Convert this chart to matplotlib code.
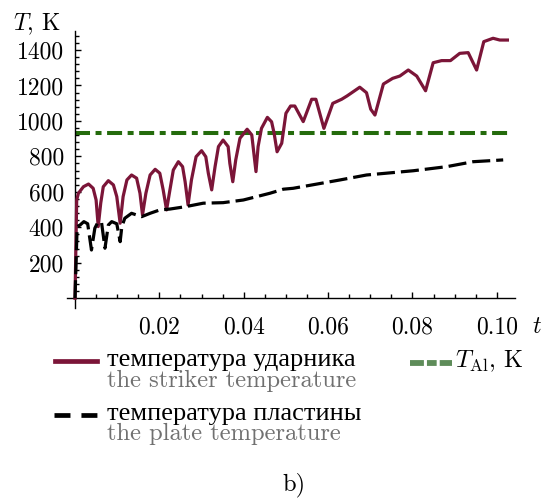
import matplotlib
matplotlib.use("Agg")
import matplotlib.pyplot as plt
from matplotlib.lines import Line2D
import numpy as np

# --- data ---
t_striker = [0.0, 0.0004, 0.0008, 0.0020, 0.0032, 0.0043, 0.0050, 0.0055, 0.0061,
             0.0067, 0.0079, 0.0091, 0.0099, 0.0107, 0.0114, 0.0123, 0.0134, 0.0146,
             0.0154, 0.0160, 0.0168, 0.0178, 0.0190, 0.0201, 0.0209, 0.0217, 0.0225,
             0.0233, 0.0245, 0.0255, 0.0261, 0.0268, 0.0276, 0.0287, 0.0300, 0.0310,
             0.0316, 0.0324, 0.0332, 0.0340, 0.0351, 0.0363, 0.0367, 0.0374, 0.0381,
             0.0391, 0.0408, 0.0419, 0.0424, 0.0429, 0.0434, 0.0442, 0.0456, 0.0466,
             0.0472, 0.0479, 0.0490, 0.0500, 0.0511, 0.0521, 0.0541, 0.0561, 0.0571,
             0.0590, 0.0611, 0.0632, 0.0645, 0.0675, 0.0691, 0.0701, 0.0711, 0.0731,
             0.0753, 0.0770, 0.0790, 0.0810, 0.0831, 0.0849, 0.0869, 0.0890, 0.0912,
             0.0932, 0.0952, 0.0969, 0.0991, 0.1007, 0.1025]
T_striker = [0, 554, 592, 629, 644, 620, 554, 404, 537,
             629, 663, 639, 573, 423, 573, 667, 695, 677,
             592, 470, 592, 695, 727, 705, 611, 498, 611,
             723, 770, 742, 657, 526, 667, 798, 832, 798,
             705, 611, 742, 855, 892, 855, 761, 657, 780,
             902, 953, 921, 817, 714, 855, 958, 1020, 995,
             930, 826, 874, 1043, 1084, 1084, 996, 1122, 1122,
             958, 1099, 1122, 1141, 1190, 1159, 1066, 1033, 1208,
             1240, 1253, 1287, 1253, 1170, 1328, 1340, 1340, 1381,
             1385, 1287, 1447, 1466, 1456, 1456]

t_plate = [0.0, 0.0005, 0.0012, 0.0021, 0.0030, 0.0039, 0.0047, 0.0055, 0.0063,
           0.0071, 0.0079, 0.0087, 0.0099, 0.0107, 0.0111, 0.0118, 0.0134, 0.0158,
           0.0178, 0.0201, 0.0225, 0.0261, 0.0304, 0.0351, 0.0399, 0.0462, 0.0494,
           0.0517, 0.0628, 0.0691, 0.0802, 0.0881, 0.0944, 0.1015]
T_plate = [0, 404, 413, 432, 420, 272, 395, 432, 425,
           282, 413, 432, 420, 319, 404, 451, 479, 460,
           479, 498, 503, 516, 536, 539, 554, 592, 615,
           620, 667, 695, 719, 742, 770, 780]

T_al = 933
t_al = [0.0, 0.1026]

x_major = [0.02, 0.04, 0.06, 0.08, 0.10]
x_labels = ["0.02", "0.04", "0.06", "0.08", "0.10"]
y_major = [200, 400, 600, 800, 1000, 1200, 1400]
y_labels = ["200", "400", "600", "800", "1000", "1200", "1400"]

c_striker = "#7b1538"
c_al = "#246b0c"
c_al_legend = "#5e8c59"
c_gray = "#707070"

plt.rcParams["mathtext.fontset"] = "cm"
plt.rcParams["axes.formatter.use_mathtext"] = True
plt.rcParams["lines.scale_dashes"] = False
plt.rcParams["font.family"] = ["cmr10", "DejaVu Serif"]

W, H = 551, 498
fig = plt.figure(figsize=(W / 100, H / 100), dpi=100)


def fx(px):
  return px / W


def fy(py):
  return 1 - py / H


ax = fig.add_axes([fx(67), fy(308), 448 / W, 277 / H])
ax.set_xlim(-0.0019, 0.1043)
ax.set_ylim(-55, 1507)

ax.plot(t_striker, T_striker, color=c_striker, lw=2.3, solid_joinstyle="round", zorder=3)
ax.plot(t_plate, T_plate, color="black", lw=2.3, linestyle=(0, (13, 4.3)), zorder=4)
ax.plot(t_al, [T_al, T_al], color=c_al, lw=2.9,
        linestyle=(0, (10.8, 4, 4.3, 4)), zorder=2)

for side in ("top", "right"):
  ax.spines[side].set_visible(False)
ax.spines["left"].set_position(("data", 0))
ax.spines["bottom"].set_position(("data", 0))
for side in ("left", "bottom"):
  ax.spines[side].set_linewidth(1.0)

ax.set_xticks(x_major)
ax.set_xticklabels(x_labels)
ax.set_xticks([v for v in np.arange(0.005, 0.1041, 0.005)
               if min(abs(v - m) for m in x_major) > 1e-6], minor=True)
ax.set_yticks(y_major)
ax.set_yticklabels(y_labels)
ax.set_yticks([v for v in range(40, 1500, 40) if v % 200 != 0], minor=True)

ax.tick_params(which="both", direction="in", width=1.0, labelsize=17)
ax.tick_params(which="major", length=4.2)
ax.tick_params(which="minor", length=2.6)
ax.tick_params(axis="x", which="major", pad=13)
ax.tick_params(axis="y", which="major", pad=8)

fig.text(fx(13), fy(30), "$T$, K", fontsize=17, va="baseline", ha="left")
fig.text(fx(532), fy(333), "$t$", fontsize=17, va="baseline", ha="left")

# legend
fig.add_artist(Line2D([fx(55), fx(97)], [fy(361), fy(361)], color=c_striker, lw=3.4,
                      transform=fig.transFigure))
fig.add_artist(Line2D([fx(54), fx(97)], [fy(415), fy(415)], color="black", lw=3.4,
                      linestyle=(0, (11.5, 7.9)), transform=fig.transFigure))
fig.add_artist(Line2D([fx(410), fx(452)], [fy(363), fy(363)], color=c_al_legend, lw=4.2,
                      linestyle=(0, (10, 2.2, 7, 2.2)), transform=fig.transFigure))

ru = dict(family=["Liberation Serif"], fontsize=19, va="baseline", ha="left")
en = dict(fontsize=17.6, va="baseline", ha="left", color=c_gray)
fig.text(fx(107), fy(366), "температура ударника", **ru)
fig.text(fx(107), fy(386.7), "the striker temperature", **en)
fig.text(fx(107), fy(420), "температура пластины", **ru)
fig.text(fx(107), fy(440), "the plate temperature", **en)
fig.text(fx(455), fy(367), r"$T_{\mathrm{Al}}$, K", fontsize=17.6, va="baseline", ha="left")

fig.text(fx(294), fy(490), "b)", fontsize=17.6, va="baseline", ha="center")

fig.savefig("out.png", dpi=100)
